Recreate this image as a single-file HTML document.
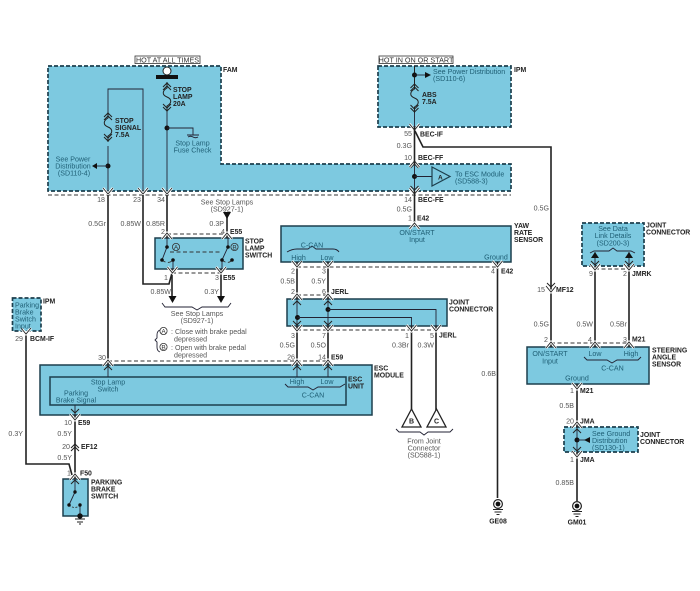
<!DOCTYPE html>
<html><head><meta charset="utf-8"><style>
html,body{margin:0;padding:0;background:#fff}
svg{display:block}
text{font-family:"Liberation Sans",sans-serif;font-size:7.1px;fill:#555}
.b{font-weight:bold;font-size:6.9px;fill:#222}
.t{fill:#1f5f75}
.m{text-anchor:middle}
.e{text-anchor:end}
.w{fill:none;stroke:#222;stroke-width:1.6}
.n{fill:none;stroke:#223;stroke-width:.9}
.d{fill:none;stroke:#333;stroke-width:.9;stroke-dasharray:4 2.5}
.box{fill:#7dc9e0;stroke:#1d3f4d;stroke-width:1.5}
.db{fill:#7dc9e0;stroke:#1d3f4d;stroke-width:1.7;stroke-dasharray:4 2}
</style></head><body>
<svg width="700" height="591" viewBox="0 0 700 591" xmlns="http://www.w3.org/2000/svg">
<defs>
<g id="pd"><path d="M-5,-3 L0,3 L5,-3" fill="none" stroke="#fff" stroke-width="2.6"/><path d="M-5,-3 L0,3 L5,-3" fill="none" stroke="#222" stroke-width=".9"/></g>
<g id="pu"><path d="M-5,3 L0,-3 L5,3" fill="none" stroke="#fff" stroke-width="2.6"/><path d="M-5,3 L0,-3 L5,3" fill="none" stroke="#222" stroke-width=".9"/></g>
<path id="cd" d="M-4,-3 L0,1 L4,-3" fill="none" stroke="#222" stroke-width="1"/>
<path id="cu" d="M-4,3 L0,-1 L4,3" fill="none" stroke="#222" stroke-width="1"/>
<g id="fuse"><path d="M0,0 V6 C-5,9 -5,13 0,15 C5,17 5,21 0,24 V30" fill="none" stroke="#222" stroke-width="1"/><use href="#cu" y="2"/><use href="#cu" y="5"/><use href="#cd" y="25"/><use href="#cd" y="28"/></g>
<g id="gnd"><circle r="4.4" fill="#fff" stroke="#222" stroke-width="1.2"/><circle r="2.4" fill="#111"/><path d="M-5,5.5 H5 M-3.5,8 H3.5 M-1.5,10.5 H1.5" stroke="#222" stroke-width="1" fill="none"/></g>
</defs>

<!-- dashed housings -->
<path class="db" d="M48,66 H221 V164 H511 V191 H48 Z"/>
<rect class="db" x="378" y="66" width="133" height="61"/>
<rect class="db" x="12.500" y="298" width="28.500" height="33"/>
<rect class="db" x="582" y="223" width="62" height="43"/>
<rect class="db" x="564" y="427" width="74" height="25"/>

<!-- solid boxes -->
<rect class="box" x="155" y="238" width="88" height="31"/>
<rect class="box" x="281" y="226" width="230" height="36"/>
<rect class="box" x="287" y="299" width="160" height="27"/>
<rect class="box" x="40" y="365" width="332" height="50"/>
<rect class="box" x="50" y="377" width="296" height="28"/>
<rect class="box" x="527" y="347" width="122" height="37"/>
<rect class="box" x="63" y="479" width="25" height="37"/>

<!-- hot labels -->
<rect x="135" y="56" width="65" height="7.500" fill="#fff" stroke="#333" stroke-width=".8"/>
<text x="167.500" y="62.700" class="m" style="font-size:7.2px;fill:#333">HOT AT ALL TIMES</text>
<rect x="379" y="56" width="74" height="7.500" fill="#fff" stroke="#333" stroke-width=".8"/>
<text x="416" y="62.700" class="m" style="font-size:7.2px;fill:#333">HOT IN ON OR START</text>

<!-- connector dashes -->
<g class="d">
<path d="M48,195 H511"/><path d="M167,234 H227"/><path d="M172,273 H221"/>
<path d="M297,267 H497"/><path d="M297,295 H328"/><path d="M297,330 H436"/>
<path d="M108,361 H328"/><path d="M595,269 H629"/><path d="M551,343 H629"/>
</g>

<!-- FAM internals -->
<circle cx="167" cy="71" r="4" fill="#fff" stroke="#222"/>
<rect x="156" y="75" width="22" height="4" fill="#111"/>
<use href="#fuse" x="167" y="82"/>
<path class="n" d="M167,112 V190"/>
<circle cx="167" cy="128" r="2.500" fill="#111"/>
<path class="n" d="M167,128 H193 V135"/>
<path d="M187,135 H199 M188,137 q2.500,-1.500 5,0 t5,0" class="n"/>
<path class="n" d="M108,146 V190 M108,112 V89 H143 V190"/>
<use href="#fuse" x="108" y="112"/>
<circle cx="108" cy="166" r="2.500" fill="#111"/>
<path class="n" d="M108,166 H95"/><path d="M92,166 L97,163 V169 Z" fill="#111"/>
<use href="#pd" x="108" y="191"/><use href="#pd" x="143" y="191"/><use href="#pd" x="167" y="191"/>

<!-- IPM internals -->
<path class="w" d="M414.500,66 V83" style="stroke-width:1"/>
<use href="#fuse" x="414.500" y="83"/>
<path class="n" d="M414.500,113 V127"/>
<circle cx="414.500" cy="75" r="2.500" fill="#111"/>
<path class="n" d="M414.500,75 H426"/><path d="M431,75 L425,72 V78 Z" fill="#111"/>
<use href="#pd" x="414.500" y="127"/>
<path class="n" d="M414.500,164 V191"/>
<use href="#cu" x="414.500" y="165"/><use href="#cd" x="414.500" y="189"/>
<circle cx="414.500" cy="176.500" r="2.500" fill="#111"/>
<path class="n" d="M414.500,176.500 H432"/>
<path d="M432,167 L450,176.500 L432,186 Z" fill="#7dc9e0" stroke="#1d3f4d" stroke-width="1.2"/>
<text x="438" y="179.500" class="b" style="font-size:6.5px">A</text>
<use href="#pu" x="414.500" y="164"/><use href="#pd" x="414.500" y="191"/>

<!-- wires -->
<g class="w">
<path d="M108,195 V365"/>
<path d="M143,195 V284 H169 L172,273"/>
<path d="M167,195 V238"/>
<path d="M227,215 V238"/>
<path d="M172,269 V299"/><path d="M221,269 V299"/>
<path d="M414.500,127 V164 M414.500,191 V226"/>
<path d="M415,131 L423,147 H551 V347"/>
<path d="M297,262 V299"/><path d="M328,262 V299"/>
<path d="M297,326 V365"/><path d="M328,326 V365"/>
<path d="M411.500,326 V410"/><path d="M436,326 V410"/>
<path d="M497.500,262 V498"/>
<path d="M595,266 V347"/><path d="M629,266 V347"/>
<path d="M577,384 V427"/><path d="M577,452 V501"/>
<path d="M26,332 V464 H69 L72,475"/>
<path d="M75,415 V479"/>
</g>

<!-- arrowheads on external wires -->
<path d="M227,219 L223,212 H231 Z" fill="#111"/>
<path d="M172.500,303 L168.500,296 H176.500 Z" fill="#111"/>
<path d="M221,303 L217,296 H225 Z" fill="#111"/>

<!-- Stop lamp switch -->
<use href="#pu" x="167" y="236"/><use href="#pu" x="227" y="236"/>
<use href="#pd" x="172.500" y="270"/><use href="#pd" x="221" y="270"/>
<path class="n" d="M167,238 V247 L162,260 M228,238 V247 L222,260"/>
<path class="d" d="M170,252 H222"/>
<path class="d" d="M162,260 Q168,265 173,260 M222,260 Q228,265 232,260"/>
<path class="n" d="M173,260 V269 M222,260 V269"/>
<g fill="#111"><circle cx="167" cy="247" r="1.800"/><circle cx="162" cy="260" r="1.800"/><circle cx="173" cy="260" r="1.800"/><circle cx="228" cy="247" r="1.800"/><circle cx="222" cy="260" r="1.800"/><circle cx="232" cy="260" r="1.800"/></g>
<circle cx="176" cy="247" r="3.600" fill="none" stroke="#333" stroke-width=".8"/>
<text x="176" y="249.500" class="m" style="font-size:6.5px;fill:#333">A</text>
<circle cx="234.500" cy="247" r="3.600" fill="none" stroke="#333" stroke-width=".8"/>
<text x="234.500" y="249.500" class="m" style="font-size:6.5px;fill:#333">B</text>

<!-- Yaw pins -->
<use href="#pu" x="414.500" y="226"/>
<use href="#pd" x="297" y="264"/><use href="#pd" x="328" y="264"/><use href="#pd" x="497.500" y="264"/>
<path class="n" d="M287,252 Q292,249 297,249 H308 L312,246 L316,249 H333 Q337,249 339,252"/>

<!-- Joint connector -->
<path class="n" d="M297,299 V326 M328,299 V326"/>
<use href="#pu" x="297" y="297"/><use href="#pu" x="328" y="297"/>
<use href="#cu" x="297" y="302"/><use href="#cu" x="328" y="302"/>
<use href="#cd" x="297" y="324"/><use href="#cd" x="328" y="324"/>
<circle cx="297.500" cy="317.500" r="2.500" fill="#111"/><circle cx="328" cy="309.500" r="2.500" fill="#111"/>
<path class="n" d="M297.500,317.500 H411.500 V326 M328,309.500 H436 V326"/>
<use href="#pd" x="297" y="328"/><use href="#pd" x="328" y="328"/><use href="#pd" x="411.500" y="328"/><use href="#pd" x="436" y="328"/>

<!-- triangles -->
<path d="M411.500,409 L402,427 H421 Z M436.500,409 L427,427 H446 Z" fill="#fff" stroke="#222" stroke-width="1.300"/>
<text x="411.500" y="423.500" class="b m" style="font-size:7px">B</text>
<text x="436.500" y="423.500" class="b m" style="font-size:7px">C</text>
<path class="n" d="M396,429 L399,432 H420 L424,435 L428,432 H450 L453,429"/>

<!-- Brace see stop lamps -->
<path class="n" d="M162,303 L165,307 H192 L197,310 L202,307 H228 L231,303"/>
<path class="n" d="M160,330 Q157,331 157,335 V338 L155,340 L157,342 V347 Q157,351 160,352"/>

<!-- ESC -->
<use href="#pu" x="108" y="363"/><use href="#pu" x="297" y="363"/><use href="#pu" x="328" y="363"/>
<path class="n" d="M108,365 V377 M297,365 V377 M328,365 V377"/>
<use href="#cu" x="108" y="367"/><use href="#cu" x="297" y="367"/><use href="#cu" x="328" y="367"/>
<path class="n" d="M285,384 L288,387 H308 L313,390 L318,387 H340 L345,384"/>
<path class="n" d="M75,405 V415"/><use href="#cd" x="75" y="412"/>
<use href="#pd" x="75" y="417"/>
<use href="#cu" x="75" y="445"/><use href="#cu" x="75" y="448"/>
<use href="#pd" x="26" y="331"/>
<use href="#pu" x="75" y="477"/><use href="#cu" x="75" y="481"/>

<!-- Parking switch -->
<path class="n" d="M75,479 V492 L69,505"/>
<path class="d" style="stroke-dasharray:2 1.500" d="M69,505 Q75,510 80,505"/>
<path class="n" d="M80,505 V516"/>
<g fill="#111"><circle cx="75" cy="492" r="1.700"/><circle cx="69" cy="505" r="1.700"/><circle cx="80" cy="505" r="1.700"/><circle cx="80" cy="516" r="2.700"/></g>
<path d="M75,519 H85 M77,522 H83 M79,524 H81" stroke="#222" stroke-width="1" fill="none"/>

<!-- Steering / joint / ground -->
<use href="#pd" x="551" y="289"/><use href="#cd" x="551" y="286"/>
<use href="#pu" x="551" y="345"/><use href="#pu" x="595" y="345"/><use href="#pu" x="629" y="345"/>
<use href="#pd" x="595" y="267"/><use href="#pd" x="629" y="267"/>
<path class="n" d="M595,252 V266 M629,252 V266"/>
<path d="M595,252 L591,258 H599 Z M629,252 L625,258 H633 Z" fill="#111"/>
<use href="#cd" x="595" y="264"/><use href="#cd" x="629" y="264"/>
<path class="n" d="M590,253 L594,251 H609 L613,248 L617,251 H631 L635,253"/>
<path class="n" d="M584,357 L587,360 H607 L612,363 L617,360 H638 L641,357"/>
<use href="#pd" x="577" y="386"/>
<use href="#pu" x="577" y="425"/><use href="#pd" x="577" y="454"/>
<path class="n" d="M577,427 V452"/>
<use href="#cu" x="577" y="430"/><use href="#cd" x="577" y="450"/>
<circle cx="577" cy="440" r="2.500" fill="#111"/>
<path class="n" d="M577,440 H590"/><path d="M584,440 L590,437 V443 Z" fill="#111"/>
<use href="#gnd" x="498" y="504"/>
<use href="#gnd" x="577" y="506"/>

<!-- text: FAM -->
<text class="b" x="223" y="72">FAM</text>
<text class="b" x="173" y="92">STOP</text><text class="b" x="173" y="99">LAMP</text><text class="b" x="173" y="106">20A</text>
<text class="b" x="115" y="123">STOP</text><text class="b" x="115" y="130">SIGNAL</text><text class="b" x="115" y="137">7.5A</text>
<text class="t m" x="192.500" y="145.500">Stop Lamp</text><text class="t m" x="192.500" y="152.500">Fuse Check</text>
<text class="t m" x="73" y="161.500">See Power</text><text class="t m" x="73" y="168.500">Distribution</text><text class="t m" x="74" y="175.500">(SD110-4)</text>
<text class="e" x="105" y="202">18</text><text class="e" x="141" y="202">23</text><text class="e" x="165" y="202">34</text>
<text class="e" x="106" y="226">0.5Gr</text><text class="e" x="141" y="226">0.85W</text><text class="e" x="165" y="226">0.85R</text>
<text class="m" x="227" y="204.500">See Stop Lamps</text><text class="m" x="227" y="211.500">(SD927-1)</text>
<text class="e" x="224" y="226">0.3P</text>
<text class="e" x="165" y="234">2</text><text class="e" x="225" y="234">4</text><text class="b" x="230" y="234">E55</text>
<text class="b" x="245" y="243.500">STOP</text><text class="b" x="245" y="250.500">LAMP</text><text class="b" x="245" y="257.500">SWITCH</text>
<text class="e" x="168" y="280">1</text><text class="e" x="219" y="280">3</text><text class="b" x="223" y="280">E55</text>
<text class="e" x="171" y="294">0.85W</text><text class="e" x="219" y="294">0.3Y</text>
<text class="m" x="197" y="316">See Stop Lamps</text><text class="m" x="197" y="323">(SD927-1)</text>
<circle cx="163.500" cy="331" r="3.600" fill="none" stroke="#333" stroke-width=".8"/><text class="m" x="163.500" y="333.500" style="font-size:6.5px;fill:#333">A</text>
<circle cx="163.500" cy="347" r="3.600" fill="none" stroke="#333" stroke-width=".8"/><text class="m" x="163.500" y="349.500" style="font-size:6.5px;fill:#333">B</text>
<text x="171" y="334">: Close with brake pedal</text><text x="174" y="341.500">depressed</text>
<text x="171" y="350">: Open with brake pedal</text><text x="174" y="357.500">depressed</text>

<!-- text: IPM -->
<text class="b" x="514" y="72">IPM</text>
<text class="t" x="433" y="74">See Power Distribution</text><text class="t" x="433" y="81">(SD110-6)</text>
<text class="b" x="422" y="97">ABS</text><text class="b" x="422" y="104">7.5A</text>
<text class="e" x="412" y="136">55</text><text class="b" x="420" y="136.500">BEC-IF</text>
<text class="e" x="412" y="148">0.3G</text>
<text class="e" x="412" y="160">10</text><text class="b" x="418" y="160">BEC-FF</text>
<text class="t" x="455" y="176.500">To ESC Module</text><text class="t" x="455" y="183.500">(SD588-3)</text>
<text class="e" x="412" y="202">14</text><text class="b" x="418" y="202">BEC-FE</text>
<text class="e" x="412" y="211.500">0.5G</text>
<text class="e" x="412" y="220.500">1</text><text class="b" x="417" y="220.500">E42</text>

<!-- yaw -->
<text class="t m" x="417" y="235">ON/START</text><text class="t m" x="417" y="242">Input</text>
<text class="t m" x="312" y="247.500">C-CAN</text><text class="t m" x="298.500" y="260">High</text><text class="t m" x="327" y="260">Low</text>
<text class="t m" x="496" y="259.500">Ground</text>
<text class="b" x="514" y="228">YAW</text><text class="b" x="514" y="235">RATE</text><text class="b" x="514" y="242">SENSOR</text>
<text class="e" x="295" y="273.500">2</text><text class="e" x="326" y="273.500">3</text><text class="e" x="495" y="273.500">4</text><text class="b" x="501" y="273.500">E42</text>
<text class="e" x="295" y="283.500">0.5B</text><text class="e" x="326" y="283.500">0.5Y</text>
<text class="e" x="295" y="294">2</text><text class="e" x="326" y="294">6</text><text class="b" x="331" y="294">JERL</text>
<text class="b" x="449" y="304.500">JOINT</text><text class="b" x="449" y="311.500">CONNECTOR</text>
<text class="e" x="295" y="338">3</text><text class="e" x="326" y="338">7</text><text class="e" x="409" y="338">1</text><text class="e" x="434" y="338">5</text><text class="b" x="439" y="337.500">JERL</text>
<text class="e" x="295" y="347.500">0.5G</text><text class="e" x="326" y="347.500">0.5O</text><text class="e" x="409" y="347.500">0.3Br</text><text class="e" x="434" y="347.500">0.3W</text>
<text class="e" x="295" y="359.500">26</text><text class="e" x="326" y="359.500">14</text><text class="b" x="331" y="359.500">E59</text>
<text class="e" x="106" y="360">30</text>
<text class="b" x="374" y="370.500">ESC</text><text class="b" x="374" y="377.500">MODULE</text>
<text class="b" x="348" y="381.500">ESC</text><text class="b" x="348" y="388.500">UNIT</text>
<text class="t m" x="108" y="384.500">Stop Lamp</text><text class="t m" x="108" y="391.500">Switch</text>
<text class="t m" x="76" y="395.500">Parking</text><text class="t m" x="76" y="402.500">Brake Signal</text>
<text class="t m" x="297" y="384">High</text><text class="t m" x="327" y="384">Low</text><text class="t m" x="313" y="397.500">C-CAN</text>
<text class="e" x="496" y="376">0.6B</text>
<text class="m" x="424" y="443.500">From Joint</text><text class="m" x="424" y="450.500">Connector</text><text class="m" x="424" y="457.500">(SD588-1)</text>

<!-- left IPM -->
<text class="t" x="15" y="307.500">Parking</text><text class="t" x="15" y="314.500">Brake</text><text class="t" x="15" y="321.500">Switch</text><text class="t" x="15" y="328.500">Input</text>
<text class="b" x="43" y="303.500">IPM</text>
<text class="e" x="23" y="341">29</text><text class="b" x="30" y="341">BCM-IF</text>
<text class="e" x="23" y="436">0.3Y</text>
<text class="e" x="72" y="425">10</text><text class="b" x="78" y="425">E59</text>
<text class="e" x="72" y="436">0.5Y</text>
<text class="e" x="70" y="449">20</text><text class="b" x="81" y="449">EF12</text>
<text class="e" x="72" y="460">0.5Y</text>
<text class="e" x="71" y="475.500">1</text><text class="b" x="80" y="475.500">F50</text>
<text class="b" x="91" y="484.500">PARKING</text><text class="b" x="91" y="491.500">BRAKE</text><text class="b" x="91" y="498.500">SWITCH</text>

<!-- right -->
<text class="e" x="549" y="210.500">0.5G</text>
<text class="t m" x="613" y="231">See Data</text><text class="t m" x="613" y="238">Link Details</text><text class="t m" x="613" y="245.500">(SD200-3)</text>
<text class="b" x="646" y="227.500">JOINT</text><text class="b" x="646" y="234.500">CONNECTOR</text>
<text class="e" x="593" y="276">9</text><text class="e" x="627" y="276">2</text><text class="b" x="632" y="276">JMRK</text>
<text class="e" x="545" y="292">15</text><text class="b" x="556" y="292">MF12</text>
<text class="e" x="549" y="326.500">0.5G</text><text class="e" x="593" y="326.500">0.5W</text><text class="e" x="627" y="326.500">0.5Br</text>
<text class="e" x="548" y="342">2</text><text class="e" x="592" y="342">4</text><text class="e" x="627" y="342">3</text><text class="b" x="632" y="341.500">M21</text>
<text class="t m" x="550" y="356">ON/START</text><text class="t m" x="550" y="363.500">Input</text>
<text class="t m" x="595" y="356">Low</text><text class="t m" x="631" y="356">High</text>
<text class="t m" x="612.500" y="370.500">C-CAN</text><text class="t m" x="577" y="380.500">Ground</text>
<text class="b" x="652" y="352.500">STEERING</text><text class="b" x="652" y="359.500">ANGLE</text><text class="b" x="652" y="366.500">SENSOR</text>
<text class="e" x="574" y="393">1</text><text class="b" x="580" y="393">M21</text>
<text class="e" x="574" y="408">0.5B</text>
<text class="e" x="574" y="423.500">20</text><text class="b" x="580" y="423.500">JMA</text>
<text class="t" x="592" y="436">See Ground</text><text class="t" x="592" y="443">Distribution</text><text class="t" x="592" y="450">(SD130-1)</text>
<text class="b" x="640" y="437">JOINT</text><text class="b" x="640" y="444">CONNECTOR</text>
<text class="e" x="574" y="462">1</text><text class="b" x="580" y="462">JMA</text>
<text class="e" x="574" y="485">0.85B</text>
<text class="b m" x="498" y="523.500">GE08</text><text class="b m" x="577" y="524.500">GM01</text>
</svg>
</body></html>
